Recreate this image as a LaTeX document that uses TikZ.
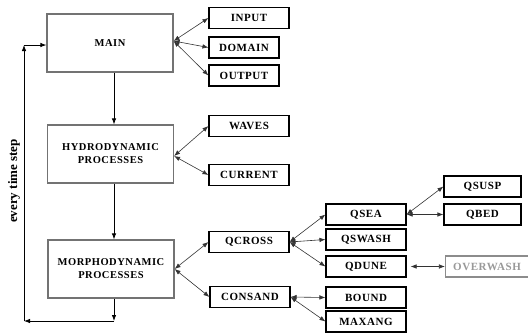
\documentclass[tikz,border=0pt]{standalone}
\usepackage{fontspec}
\setmainfont{Liberation Serif}
\newfontfamily\boxfont[LetterSpace=5]{Liberation Serif}
\usetikzlibrary{arrows.meta}
\begin{document}
\begin{tikzpicture}[x=1pt,y=-1pt,
  bigbox/.style={draw=black!55,line width=1.2pt,minimum width=126pt,minimum height=58pt,align=center,font=\boxfont\fontsize{10.5}{13}\selectfont\bfseries,inner sep=0pt},
  smallbox/.style={draw=black,line width=1.1pt,minimum width=80pt,minimum height=21pt,font=\boxfont\fontsize{11}{12}\selectfont\bfseries,inner sep=0pt},
  link/.style={draw=black!80,line width=0.6pt,{Latex[length=6pt,width=4.5pt]}-{Latex[length=6pt,width=4.5pt]}},
  flow/.style={draw=black,line width=0.8pt,-{Latex[length=6pt,width=4.5pt]}}]
\useasboundingbox (0,0) rectangle (528,333);
% main column
\node[bigbox] (main) at (110,43) {MAIN};
\node[bigbox] (hydro) at (110.5,154) {HYDRODYNAMIC\\PROCESSES};
\node[bigbox] (morpho) at (111,269) {MORPHODYNAMIC\\PROCESSES};
% level 1
\node[smallbox] (input) at (249,18) {INPUT};
\node[smallbox,minimum width=70pt] (domain) at (244,47.5) {DOMAIN};
\node[smallbox,minimum width=70pt] (output) at (244,75.5) {OUTPUT};
\node[smallbox] (waves) at (249,126) {WAVES};
\node[smallbox] (current) at (249,175) {CURRENT};
\node[smallbox] (qcross) at (249,242) {QCROSS};
\node[smallbox] (consand) at (250,297) {CONSAND};
% level 2
\node[smallbox] (qsea) at (366,214.5) {QSEA};
\node[smallbox] (qswash) at (366,239.5) {QSWASH};
\node[smallbox] (qdune) at (366,266.5) {QDUNE};
\node[smallbox] (bound) at (366,297.5) {BOUND};
\node[smallbox] (maxang) at (366,321.5) {MAXANG};
% level 3
\node[smallbox,minimum width=77pt] (qsusp) at (482.5,186.5) {QSUSP};
\node[smallbox,minimum width=77pt] (qbed) at (482.5,214.5) {QBED};
\node[smallbox,minimum width=83pt,draw=black!45,text=black!40] (overwash) at (487,266.5) {OVERWASH};
% loop coordinates
\coordinate (bend1) at (114,321);
\coordinate (bend2) at (24,321);
\coordinate (bend3) at (24,45);
% main flow
\draw[flow] (main.south -| 114,0) -- (hydro.north -| 114,0);
\draw[flow] (hydro.south -| 114,0) -- (morpho.north -| 114,0);
\draw[flow] (morpho.south -| 114,0) -- (bend1);
\draw[flow] (bend1) -- (bend2);
\draw[flow] (bend2) -- (bend3);
\draw[flow] (bend3) -- (bend3 -| main.west);
\node[rotate=90,font=\fontsize{13}{15}\selectfont\bfseries] (label) at (14,181) {every time step};
% links
\draw[link] ([yshift=2pt]main.east) -- (input.west);
\draw[link] ([yshift=2pt]main.east) -- (domain.west);
\draw[link] ([yshift=2pt]main.east) -- (output.west);
\draw[link] ([yshift=-2pt]hydro.east) -- (waves.west);
\draw[link] ([yshift=-2pt]hydro.east) -- (current.west);
\draw[link] (morpho.east) -- (qcross.west);
\draw[link] (morpho.east) -- (consand.west);
\draw[link] (qcross.east) -- (qsea.west);
\draw[link] (qcross.east) -- (qswash.west);
\draw[link] (qcross.east) -- (qdune.west);
\draw[link] (consand.east) -- (bound.west);
\draw[link] (consand.east) -- (maxang.west);
\draw[link] (qsea.east) -- (qsusp.west);
\draw[link] (qsea.east) -- (qbed.west);
\draw[link] ([xshift=4pt]qdune.east) -- (overwash.west);
\end{tikzpicture}
\end{document}
